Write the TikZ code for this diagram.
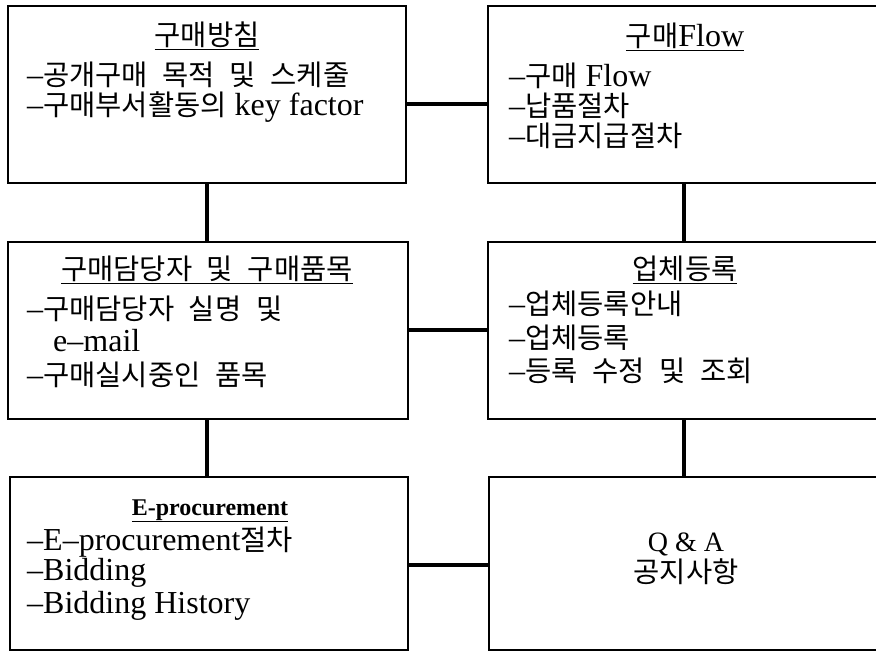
\documentclass[tikz,border=0pt]{standalone}
\usepackage{fontspec}
\setmainfont{Liberation Serif}
\newfontfamily\krf[WordSpace=2.3]{Noto Sans CJK KR}
\newcommand\ko[1]{{\krf\fontsize{28.5}{30}\selectfont #1}}
\begin{document}
\begin{tikzpicture}[x=1pt,y=-1pt,
  box/.style={draw,line width=1.7pt,inner sep=0pt,rectangle},
  conn/.style={line width=3.5pt},
  txt/.style={inner sep=0pt,text height=20pt,text depth=4pt,font=\fontsize{32}{32}\selectfont}]
\useasboundingbox (0,0) rectangle (876,652);
\clip (0,0) rectangle (876,652);
% boxes
\node[box,minimum width=398pt,minimum height=177pt] (b1) at (207,94.5) {};
\node[box,minimum width=412pt,minimum height=177pt] (b2) at (694,94.5) {};
\node[box,minimum width=400pt,minimum height=177pt] (b3) at (208,330.5) {};
\node[box,minimum width=412pt,minimum height=177pt] (b4) at (694,330.5) {};
\node[box,minimum width=398pt,minimum height=173pt] (b5) at (209,563.5) {};
\node[box,minimum width=411pt,minimum height=173pt] (b6) at (694.5,563.5) {};
% connectors
\coordinate (lx) at (207,0);
\coordinate (rx) at (684,0);
\coordinate (h1) at (0,104);
\coordinate (h2) at (0,330);
\coordinate (h3) at (0,565);
\draw[conn] (b1.east |- h1) -- (b2.west |- h1);
\draw[conn] (b3.east |- h2) -- (b4.west |- h2);
\draw[conn] (b5.east |- h3) -- (b6.west |- h3);
\draw[conn] (b1.south -| lx) -- (b3.north -| lx);
\draw[conn] (b3.south -| lx) -- (b5.north -| lx);
\draw[conn] (b2.south -| rx) -- (b4.north -| rx);
\draw[conn] (b4.south -| rx) -- (b6.north -| rx);
% box 1
\node[txt,anchor=base] (t1) at (207,46) {\underline{\ko{구매방침}}};
\node[txt,anchor=base west] (l11) at (27,86) {–\ko{공개구매 목적 및 스케줄}};
\node[txt,anchor=base west] (l12) at (27,116) {–\ko{구매부서활동의} key factor};
% box 2
\node[txt,anchor=base] (t2) at (685,47) {\underline{\ko{구매}Flow}};
\node[txt,anchor=base west] (l21) at (509,87) {–\ko{구매} Flow};
\node[txt,anchor=base west] (l22) at (509,117) {–\ko{납품절차}};
\node[txt,anchor=base west] (l23) at (509,147) {–\ko{대금지급절차}};
% box 3
\node[txt,anchor=base] (t3) at (207,280) {\underline{\ko{구매담당자 및 구매품목}}};
\node[txt,anchor=base west] (l31) at (27,320) {–\ko{구매담당자 실명 및}};
\node[txt,anchor=base west] (l32) at (53,352) {e–mail};
\node[txt,anchor=base west] (l33) at (27,385) {–\ko{구매실시중인 품목}};
% box 4
\node[txt,anchor=base] (t4) at (685,280) {\underline{\ko{업체등록}}};
\node[txt,anchor=base west] (l41) at (509,315) {–\ko{업체등록안내}};
\node[txt,anchor=base west] (l42) at (509,349) {–\ko{업체등록}};
\node[txt,anchor=base west] (l43) at (509,382) {–\ko{등록 수정 및 조회}};
% box 5
\node[txt,anchor=base] (t5) at (210,515) {\fontsize{24}{26}\selectfont\bfseries\underline{E-procurement}};
\node[txt,anchor=base west] (l51) at (27,550) {–E–procurement\ko{절차}};
\node[txt,anchor=base west] (l52) at (27,580) {–Bidding};
\node[txt,anchor=base west] (l53) at (27,613) {–Bidding History};
% box 6
\node[txt,anchor=base,font=\fontsize{28}{30}\selectfont] (q1) at (686,551) {Q \& A};
\node[txt,anchor=base] (q2) at (686,582) {\ko{공지사항}};
\end{tikzpicture}
\end{document}
